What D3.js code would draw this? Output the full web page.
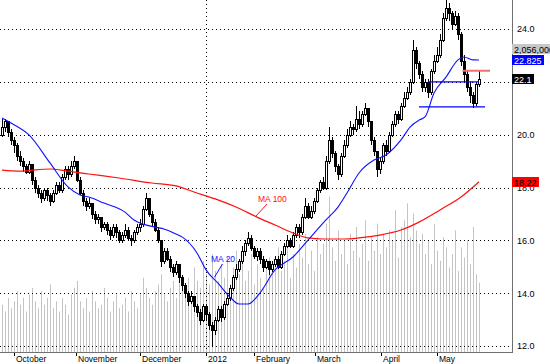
<!DOCTYPE html>
<html lang="en">
  <head>
    <meta charset="utf-8" />
    <title>Candlestick chart with MA 20 / MA 100</title>
    <script src="https://d3js.org/d3.v7.min.js"></script>
    <style type="text/css">
      body { margin: 0; background: #fff; }
      svg { display: block; font-family: "Liberation Sans", Arial, sans-serif; }
    </style>
  </head>
  <body>
    <script type="text/javascript">
      // daily bars, index 0 = last days of September 2011
      const opens = [
        20.0, 20.3, 20.5, 20.1, 19.8, 19.6, 19.2, 19.0, 18.8, 18.6,
        18.9, 18.3, 18.0, 17.8, 17.6, 17.9, 17.7, 17.5, 17.8, 18.1,
        17.9, 18.4, 18.7, 18.5, 18.8, 19.0, 18.3, 17.8, 17.5, 17.3,
        17.4, 17.0, 16.8, 16.9, 16.5, 16.6, 16.4, 16.2, 16.5, 16.3,
        16.0, 16.2, 16.4, 16.1, 16.0, 16.3, 16.5, 16.6, 17.2, 17.6,
        17.0, 16.7, 16.4, 16.0, 15.2, 15.6, 15.3, 15.0, 14.8, 15.1,
        14.6, 14.3, 14.0, 13.7, 13.9, 13.5, 13.3, 13.0, 13.5, 13.2,
        12.8, 12.6, 13.0, 13.4, 13.1, 13.6, 13.8, 14.2, 14.6, 14.9,
        15.2, 15.6, 15.9, 16.1, 15.7, 15.4, 15.6, 15.3, 15.0, 15.2,
        14.9, 15.1, 15.3, 15.0, 15.5, 15.8, 16.0, 15.8, 16.2, 16.5,
        16.3, 16.9, 17.3, 16.9, 17.1, 17.5, 17.9, 18.2, 18.0, 19.0,
        19.8, 19.3, 18.8, 18.5, 19.2, 19.6, 20.0, 20.3, 20.2, 20.6,
        20.4, 20.8, 21.0, 20.5, 19.8, 19.4, 18.7, 19.0, 19.6, 19.4,
        20.0, 20.4, 20.8, 20.6, 21.1, 21.4, 21.6, 22.0, 23.2, 22.7,
        22.3, 21.8, 22.0, 21.6, 22.4, 22.8, 23.0, 23.6, 24.4, 24.8,
        24.6, 24.2, 24.5, 23.8, 22.8, 22.3, 21.8, 21.5, 21.2, 21.9
      ];
      const highs = [
        20.6, 20.6, 20.5, 20.2, 19.9, 19.7, 19.4, 19.1, 18.9, 19.0,
        18.9, 18.4, 18.1, 17.9, 18.0, 18.0, 17.8, 17.9, 18.2, 18.2,
        18.5, 18.8, 18.8, 19.0, 19.2, 19.0, 18.4, 17.9, 17.6, 17.6,
        17.4, 17.1, 17.0, 16.9, 16.7, 16.7, 16.5, 16.6, 16.6, 16.4,
        16.3, 16.6, 16.5, 16.2, 16.4, 16.6, 16.8, 17.3, 17.8, 17.6,
        17.1, 16.8, 16.5, 16.0, 15.7, 15.7, 15.4, 15.1, 15.2, 15.1,
        14.7, 14.4, 14.1, 14.1, 13.9, 13.6, 13.4, 13.6, 13.6, 13.3,
        12.9, 13.1, 13.5, 13.5, 13.7, 14.0, 14.3, 14.7, 15.1, 15.3,
        15.8, 16.0, 16.3, 16.2, 15.8, 15.7, 15.7, 15.4, 15.3, 15.2,
        15.2, 15.4, 15.4, 15.6, 15.9, 16.2, 16.1, 16.3, 16.6, 16.6,
        17.0, 17.6, 17.4, 17.3, 17.6, 18.0, 18.3, 18.4, 19.2, 20.3,
        19.9, 19.4, 18.9, 19.3, 19.8, 20.2, 20.5, 20.4, 21.1, 20.9,
        20.9, 21.2, 21.0, 20.5, 19.9, 19.4, 19.1, 19.7, 19.8, 20.1,
        20.5, 20.9, 20.9, 21.2, 21.6, 21.8, 22.1, 23.6, 23.3, 22.8,
        22.4, 22.1, 22.1, 22.5, 23.0, 23.3, 23.8, 24.6, 25.1, 25.0,
        24.7, 24.7, 24.6, 23.9, 23.0, 22.4, 22.0, 21.6, 22.0, 22.4
      ];
      const lows = [
        19.9, 20.1, 19.9, 19.6, 19.3, 19.0, 18.8, 18.6, 18.5, 18.5,
        18.1, 17.8, 17.6, 17.4, 17.5, 17.5, 17.3, 17.4, 17.7, 17.8,
        17.8, 18.3, 18.3, 18.4, 18.7, 18.2, 17.7, 17.3, 17.1, 17.2,
        16.8, 16.6, 16.6, 16.3, 16.4, 16.2, 16.0, 16.1, 16.1, 15.9,
        15.9, 16.1, 16.0, 15.8, 15.9, 16.2, 16.3, 16.5, 17.1, 16.9,
        16.5, 16.3, 15.9, 15.0, 15.1, 15.2, 14.8, 14.6, 14.7, 14.4,
        14.1, 13.8, 13.5, 13.6, 13.3, 13.1, 12.8, 12.9, 13.0, 12.6,
        12.0, 12.4, 12.9, 12.9, 13.0, 13.5, 13.7, 14.1, 14.5, 14.8,
        15.1, 15.4, 15.8, 15.6, 15.3, 15.2, 15.1, 14.8, 14.9, 14.7,
        14.8, 15.0, 14.9, 14.9, 15.4, 15.7, 15.7, 15.7, 16.1, 16.1,
        16.2, 16.8, 16.8, 16.8, 17.0, 17.4, 17.8, 17.9, 17.9, 18.9,
        19.1, 18.6, 18.3, 18.4, 19.1, 19.5, 19.9, 20.0, 20.1, 20.2,
        20.3, 20.7, 20.3, 19.6, 19.2, 18.4, 18.5, 18.9, 19.2, 19.3,
        19.9, 20.3, 20.4, 20.5, 21.0, 21.3, 21.5, 21.9, 22.5, 22.1,
        21.6, 21.6, 21.4, 21.5, 22.3, 22.7, 22.9, 23.5, 24.3, 24.3,
        24.0, 24.1, 23.6, 22.6, 22.0, 21.6, 21.2, 21.0, 21.1, 21.8
      ];
      const closes = [
        20.3, 20.5, 20.1, 19.8, 19.6, 19.2, 19.0, 18.8, 18.6, 18.9,
        18.3, 18.0, 17.8, 17.6, 17.9, 17.7, 17.5, 17.8, 18.1, 17.9,
        18.4, 18.7, 18.5, 18.8, 19.0, 18.3, 17.8, 17.5, 17.3, 17.4,
        17.0, 16.8, 16.9, 16.5, 16.6, 16.4, 16.2, 16.5, 16.3, 16.0,
        16.2, 16.4, 16.1, 16.0, 16.3, 16.5, 16.6, 17.2, 17.6, 17.0,
        16.7, 16.4, 16.0, 15.2, 15.6, 15.3, 15.0, 14.8, 15.1, 14.6,
        14.3, 14.0, 13.7, 13.9, 13.5, 13.3, 13.0, 13.5, 13.2, 12.8,
        12.6, 13.0, 13.4, 13.1, 13.6, 13.8, 14.2, 14.6, 14.9, 15.2,
        15.6, 15.9, 16.1, 15.7, 15.4, 15.6, 15.3, 15.0, 15.2, 14.9,
        15.1, 15.3, 15.0, 15.5, 15.8, 16.0, 15.8, 16.2, 16.5, 16.3,
        16.9, 17.3, 16.9, 17.1, 17.5, 17.9, 18.2, 18.0, 19.0, 19.8,
        19.3, 18.8, 18.5, 19.2, 19.6, 20.0, 20.3, 20.2, 20.6, 20.4,
        20.8, 21.0, 20.5, 19.8, 19.4, 18.7, 19.0, 19.6, 19.4, 20.0,
        20.4, 20.8, 20.6, 21.1, 21.4, 21.6, 22.0, 23.2, 22.7, 22.3,
        21.8, 22.0, 21.6, 22.4, 22.8, 23.0, 23.6, 24.4, 24.8, 24.6,
        24.2, 24.5, 23.8, 22.8, 22.3, 21.8, 21.5, 21.2, 21.9, 22.1
      ];
      // volume in millions of shares
      const volumes = [
        1.4, 1.2, 1.6, 1.3, 1.5, 1.8, 1.4, 1.6, 1.2, 1.7,
        1.9, 1.5, 1.3, 1.8, 1.4, 1.6, 2.0, 1.3, 1.5, 1.2,
        1.6, 1.4, 1.1, 1.7, 1.9, 2.1, 1.5, 1.3, 1.6, 1.2,
        1.8, 1.5, 1.3, 1.4, 1.9, 1.6, 1.2, 1.5, 1.7, 1.3,
        1.4, 1.6, 1.2, 1.8, 1.5, 1.3, 1.7, 2.2, 1.9, 1.6,
        1.4, 1.8, 2.0, 2.3, 1.7, 1.5, 1.9, 2.1, 1.6, 2.4,
        2.0, 1.8, 2.2, 1.6, 2.5, 2.1, 1.9, 2.7, 2.3, 2.0,
        2.9, 2.4, 2.1, 2.6, 2.2, 2.8, 2.0, 2.5, 3.0, 2.3,
        2.7, 2.1, 2.4, 2.9, 2.0, 2.6, 2.2, 1.9, 2.5, 2.8,
        2.3, 2.6, 3.1, 2.4, 2.7, 3.3, 2.2, 2.9, 2.5, 3.2,
        2.8, 3.5, 2.6, 3.0, 2.4, 3.4, 2.9, 3.2, 3.8, 4.6,
        3.1, 2.7, 3.6, 2.9, 3.3, 2.6, 3.5, 3.0, 3.7, 2.8,
        3.2, 3.9, 2.7, 3.4, 3.0, 3.8, 2.9, 3.5, 3.1, 3.6,
        3.3, 4.2, 2.8, 3.7, 3.9, 4.4, 3.4, 4.1, 3.6, 3.2,
        3.5, 2.9, 3.3, 2.6, 3.8, 3.0, 2.7, 3.4, 3.1, 2.5,
        2.9, 3.6, 2.4, 3.1, 2.8, 3.3, 2.6, 3.7, 2.3, 2.056
      ];

      // moving averages, read at selected bars
      const ma20Idx = [0, 3, 9, 16, 22, 26, 29, 34, 41, 44, 51, 54, 58, 60, 65, 68, 72, 76, 79, 82,
        86, 91, 97, 102, 108, 112, 115, 119, 124, 128, 133, 136, 139, 141, 144, 148, 152, 154, 157, 159];
      const ma20 = [20.63, 20.44, 19.99, 18.93, 18.02, 17.72, 17.64, 17.41, 17.07, 16.77, 16.50, 16.43,
        16.24, 16.13, 15.52, 14.88, 14.38, 13.85, 13.59, 13.59, 14.01, 14.88, 15.37, 16.01, 16.77, 17.26,
        17.79, 18.55, 19.04, 19.23, 19.80, 20.29, 20.55, 20.67, 21.58, 22.18, 22.83, 22.94, 22.83, 22.825];
      const ma100Idx = [0, 6, 10, 16, 22, 29, 39, 50, 58, 64, 72, 78, 85, 91, 97, 102, 107, 114, 119,
        126, 133, 139, 146, 153, 159];
      const ma100 = [18.66, 18.62, 18.66, 18.70, 18.62, 18.51, 18.36, 18.17, 18.06, 17.83, 17.53, 17.26,
        16.88, 16.58, 16.28, 16.09, 16.05, 16.05, 16.09, 16.20, 16.39, 16.69, 17.15, 17.64, 18.22];

      const monthLabels = ["October", "November", "December", "2012", "February", "March", "April", "May"];
      const monthIdx = [4, 24.7, 46, 68, 84, 104.3, 126.3, 145];
      const priceTicks = [12, 14, 16, 18, 20, 24];
      const gridTicks = [12, 14, 16, 18, 20, 22, 24];

      const w = 550;
      const h = 364;
      const plotRight = 512;
      const plotBottom = 352;

      const x = d3.scaleLinear().domain([0, closes.length - 1]).range([2, 479]);
      const y = d3.scaleLinear().domain([12, 24]).range([346, 29]);
      const yVol = d3.scaleLinear().domain([0, 4.5]).range([plotBottom, 200]);

      const svg = d3.select("body").append("svg").attr("width", w).attr("height", h);

      svg.append("rect").attr("width", w).attr("height", h).attr("fill", "#fff");

      //Volume bars
      svg.append("g")
        .selectAll("line")
        .data(volumes)
        .enter()
        .append("line")
        .attr("x1", (d, i) => Math.round(x(i)) + 0.5)
        .attr("x2", (d, i) => Math.round(x(i)) + 0.5)
        .attr("y1", plotBottom)
        .attr("y2", (d) => yVol(d))
        .attr("stroke", "#c4c4c4")
        .attr("stroke-width", 1);

      //Grid lines
      svg.append("g")
        .selectAll("line")
        .data(gridTicks)
        .enter()
        .append("line")
        .attr("x1", 0)
        .attr("x2", plotRight)
        .attr("y1", (d) => Math.round(y(d)) + 0.5)
        .attr("y2", (d) => Math.round(y(d)) + 0.5)
        .attr("stroke", "#000")
        .attr("stroke-dasharray", "1,3");

      const yearX = Math.round(x(monthIdx[3])) + 0.5;
      svg.append("line")
        .attr("x1", yearX).attr("x2", yearX)
        .attr("y1", 0).attr("y2", plotBottom)
        .attr("stroke", "#000")
        .attr("stroke-dasharray", "1,3");

      //Candles
      const candles = svg.append("g").attr("shape-rendering", "crispEdges");
      closes.forEach(function (c, i) {
        const cx = Math.round(x(i));
        const o = opens[i];
        candles.append("line")
          .attr("x1", cx + 0.5).attr("x2", cx + 0.5)
          .attr("y1", y(highs[i])).attr("y2", y(lows[i]))
          .attr("stroke", "#000");
        const top = Math.round(y(Math.max(o, c)));
        const bot = Math.round(y(Math.min(o, c)));
        candles.append("rect")
          .attr("x", cx - 0.5)
          .attr("y", top + 0.5)
          .attr("width", 2)
          .attr("height", Math.max(1, bot - top))
          .attr("fill", c >= o ? "#fff" : "#000")
          .attr("stroke", "#000");
      });

      //Moving averages
      const line = d3.line()
        .x((d) => x(d[0]))
        .y((d) => y(d[1]))
        .curve(d3.curveMonotoneX);

      svg.append("path")
        .attr("d", line(ma100Idx.map((d, i) => [d, ma100[i]])))
        .attr("fill", "none")
        .attr("stroke", "#ff1010")
        .attr("stroke-width", 1.2);

      svg.append("path")
        .attr("d", line(ma20Idx.map((d, i) => [d, ma20[i]])))
        .attr("fill", "none")
        .attr("stroke", "#1010ff")
        .attr("stroke-width", 1.1);

      //Support / resistance lines
      svg.append("line")
        .attr("x1", x(142)).attr("x2", x(159))
        .attr("y1", y(22.0)).attr("y2", y(22.0))
        .attr("stroke", "#0000ff").attr("stroke-width", 1.2);
      svg.append("line")
        .attr("x1", x(139)).attr("x2", x(161))
        .attr("y1", y(21.05)).attr("y2", y(21.05))
        .attr("stroke", "#0000ff").attr("stroke-width", 1.2);
      svg.append("line")
        .attr("x1", x(153.5)).attr("x2", 490)
        .attr("y1", y(22.42)).attr("y2", y(22.42))
        .attr("stroke", "#f07070").attr("stroke-width", 2);

      //MA labels
      svg.append("text")
        .attr("x", 211).attr("y", 262)
        .attr("fill", "#1010ff")
        .attr("font-size", 8.5)
        .text("MA 20");
      svg.append("line")
        .attr("x1", 222.5).attr("y1", 264)
        .attr("x2", x(70.8)).attr("y2", y(14.6))
        .attr("stroke", "#1010ff");

      svg.append("text")
        .attr("x", 258).attr("y", 202)
        .attr("fill", "#ff1010")
        .attr("font-size", 8.5)
        .text("MA 100");
      svg.append("line")
        .attr("x1", 267).attr("y1", 204)
        .attr("x2", x(84.5)).attr("y2", y(16.9))
        .attr("stroke", "#ff1010");

      //Axis frame
      svg.append("line")
        .attr("x1", plotRight + 0.5).attr("x2", plotRight + 0.5)
        .attr("y1", 0).attr("y2", plotBottom + 1)
        .attr("stroke", "#707070");
      svg.append("line")
        .attr("x1", 0).attr("x2", plotRight + 1)
        .attr("y1", plotBottom + 0.5).attr("y2", plotBottom + 0.5)
        .attr("stroke", "#707070");

      //Right price axis
      const yAxis = svg.append("g")
        .attr("transform", "translate(" + (plotRight + 2) + ",0)")
        .call(d3.axisRight(y).tickValues(priceTicks).tickSize(0).tickFormat(d3.format(".1f")));
      yAxis.select(".domain").remove();
      yAxis.selectAll("text")
        .attr("font-family", "Liberation Sans, Arial, sans-serif")
        .attr("font-size", 9)
        .attr("fill", "#000");

      //Month axis
      const xAxis = svg.append("g")
        .attr("transform", "translate(0," + (plotBottom + 1) + ")");
      xAxis.selectAll("line")
        .data(monthIdx)
        .enter()
        .append("line")
        .attr("x1", (d) => Math.round(x(d)) + 0.5)
        .attr("x2", (d) => Math.round(x(d)) + 0.5)
        .attr("y1", 0).attr("y2", 3)
        .attr("stroke", "#000");
      xAxis.selectAll("text")
        .data(monthIdx)
        .enter()
        .append("text")
        .attr("x", (d) => Math.round(x(d)) + 2)
        .attr("y", 9)
        .attr("font-size", 8.5)
        .attr("fill", "#000")
        .text((d, i) => monthLabels[i]);

      //Last value boxes, sized to their text
      const boxes = [
        { text: d3.format(",")(Math.round(volumes[volumes.length - 1] * 1e6)), yy: 49, bg: "#c8c8c8", fg: "#000" },
        { text: d3.format(".3f")(ma20[ma20.length - 1]), yy: 60, bg: "#0000ff", fg: "#fff" },
        { text: String(closes[closes.length - 1]), yy: 78.5, bg: "#000", fg: "#fff" },
        { text: String(ma100[ma100.length - 1]), yy: 181.5, bg: "#ff0000", fg: "#000" }
      ];
      boxes.forEach(function (b) {
        const r = svg.append("rect")
          .attr("x", plotRight)
          .attr("y", Math.round(b.yy) - 5)
          .attr("height", 10)
          .attr("fill", b.bg);
        const t = svg.append("text")
          .attr("x", plotRight + 2)
          .attr("y", Math.round(b.yy) + 3.5)
          .attr("font-size", 9)
          .attr("fill", b.fg)
          .text(b.text);
        const tw = t.node().getComputedTextLength();
        r.attr("width", Math.min(w - plotRight, Math.ceil(tw) + 4));
      });
    </script>
  </body>
</html>
